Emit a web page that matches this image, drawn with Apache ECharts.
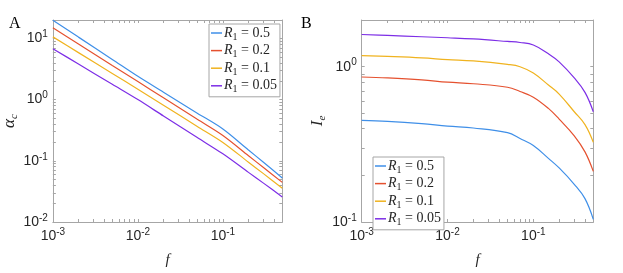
<!DOCTYPE html>
<html><head><meta charset="utf-8">
<script src="https://cdn.jsdelivr.net/npm/echarts@6/dist/echarts.min.js"></script>
<style>html,body{margin:0;padding:0;background:#fff}#c{width:623px;height:273px}</style>
</head><body><div id="c"></div>
<script>
// ---- data ----
const seriesNames = ['R1 = 0.5', 'R1 = 0.2', 'R1 = 0.1', 'R1 = 0.05'];
const fA = [0.001, 0.002, 0.005, 0.01, 0.02, 0.05, 0.1, 0.2, 0.3, 0.5];
const alphaR05  = [19.9, 10.5, 4.54, 2.4, 1.32, 0.60, 0.331, 0.15, 0.0946, 0.0525];
const alphaR02  = [14.9, 8.09, 3.6, 1.97, 1.07, 0.476, 0.259, 0.121, 0.0776, 0.0444];
const alphaR01  = [10.6, 5.86, 2.68, 1.48, 0.81, 0.365, 0.2, 0.095, 0.0617, 0.0357];
const alphaR005 = [6.79, 3.82, 1.78, 1.0, 0.54, 0.24, 0.13, 0.0647, 0.0432, 0.0257];
const fB = [0.001, 0.002, 0.005, 0.01, 0.02, 0.05, 0.07, 0.1, 0.15, 0.2, 0.3, 0.4, 0.5];
const ieR05  = [0.451, 0.445, 0.43, 0.414, 0.403, 0.376, 0.345, 0.311, 0.257, 0.223, 0.175, 0.1415, 0.104];
const ieR02  = [0.859, 0.847, 0.823, 0.796, 0.777, 0.738, 0.693, 0.637, 0.539, 0.46, 0.359, 0.283, 0.212];
const ieR01  = [1.18, 1.165, 1.14, 1.112, 1.09, 1.035, 1.0, 0.91, 0.762, 0.667, 0.513, 0.424, 0.326];
const ieR005 = [1.613, 1.59, 1.56, 1.537, 1.51, 1.455, 1.432, 1.38, 1.211, 1.075, 0.847, 0.684, 0.513];
const xTickLabels = [0.001, 0.01, 0.1];
const yTickLabelsA = [0.01, 0.1, 1, 10];
const yTickLabelsB = [0.1, 1];

// ---- helpers ----
const colors = ['#3f8fe8', '#e5512f', '#f0b31f', '#7d2ee6'];
function minorTicks(lo, hi) {
  const out = [];
  for (let e = Math.floor(Math.log10(lo)); e <= Math.ceil(Math.log10(hi)); e++) {
    for (let m = 1; m <= 9; m++) {
      const v = +(m * Math.pow(10, e)).toPrecision(6);
      if (v >= lo * 0.9999 && v <= hi * 1.0001) out.push(v);
    }
  }
  return out;
}
const labelRich = {
  b: { fontSize: 14, fontFamily: 'Liberation Sans', color: '#262626', lineHeight: 18 },
  s: { fontSize: 10, fontFamily: 'Liberation Sans', color: '#262626', verticalAlign: 'top', lineHeight: 18 }
};
function powFmt(v) {
  const e = Math.round(Math.log10(v));
  return '{b|10}{s|' + e + '}';
}
const axisColor = '#a6a6a6';
function makeX(gridIndex, pos, lo, hi, show, name) {
  return {
    type: 'log', gridIndex, position: pos, min: lo, max: hi,
    axisLine: { show: true, lineStyle: { color: axisColor, width: 1 } },
    axisTick: { show: true, inside: true, length: 3, lineStyle: { color: axisColor }, customValues: minorTicks(lo, hi) },
    axisLabel: { show: show, margin: 5, customValues: xTickLabels, formatter: powFmt, rich: labelRich },
    splitLine: { show: false },
    name: name || '', nameLocation: 'middle', nameGap: 31,
    nameTextStyle: { fontFamily: 'Liberation Serif', fontStyle: 'italic', fontSize: 15, color: '#262626' }
  };
}
function makeY(gridIndex, pos, lo, hi, show, labels, name, gap) {
  return {
    type: 'log', gridIndex, position: pos, min: lo, max: hi,
    axisLine: { show: true, lineStyle: { color: axisColor, width: 1 } },
    axisTick: { show: true, inside: true, length: 3, lineStyle: { color: axisColor }, customValues: minorTicks(lo, hi) },
    axisLabel: { show: show, margin: 5, customValues: labels, formatter: powFmt, rich: labelRich },
    splitLine: { show: false },
    name: name || '', nameLocation: 'middle', nameGap: gap || 30, nameRotate: 90,
    nameTextStyle: {
      rich: {
        m: { fontFamily: 'Liberation Serif', fontStyle: 'italic', fontSize: 17, color: '#262626' },
        sub: { fontFamily: 'Liberation Serif', fontStyle: 'italic', fontSize: 11, color: '#262626', verticalAlign: 'bottom', lineHeight: 20 }
      }
    }
  };
}
function zip(xs, ys) { return xs.map((x, i) => [x, ys[i]]); }
const dataA = [alphaR05, alphaR02, alphaR01, alphaR005];
const dataB = [ieR05, ieR02, ieR01, ieR005];
const series = [];
dataA.forEach((d, i) => series.push({
  name: seriesNames[i], type: 'line', xAxisIndex: 0, yAxisIndex: 0, data: zip(fA, d),
  showSymbol: false, symbol: 'none', smooth: 0.3, lineStyle: { width: 1.2, color: colors[i] }, itemStyle: { color: colors[i] }, animation: false
}));
dataB.forEach((d, i) => series.push({
  name: seriesNames[i], type: 'line', xAxisIndex: 2, yAxisIndex: 2, data: zip(fB, d),
  showSymbol: false, symbol: 'none', smooth: 0.4, lineStyle: { width: 1.2, color: colors[i] }, itemStyle: { color: colors[i] }, animation: false
}));
const legendRich = {
  r: { fontFamily: 'Liberation Serif', fontStyle: 'italic', fontSize: 14, color: '#262626' },
  s: { fontFamily: 'Liberation Serif', fontSize: 10, color: '#262626', verticalAlign: 'bottom', lineHeight: 18 },
  e: { fontFamily: 'Liberation Serif', fontSize: 14, color: '#262626' }
};
function legendFmt(n) {
  const v = n.split('=')[1].trim();
  return '{r|R}{s|1}{e| = ' + v + '}';
}
const legendBase = {
  data: seriesNames, orient: 'vertical', icon: 'rect', itemWidth: 11, itemHeight: 1.5, itemGap: 1.6,
  formatter: legendFmt, textStyle: { rich: legendRich, padding: [0, 0, 0, -3] },
  backgroundColor: '#fff', borderColor: '#a6a6a6', borderWidth: 1, padding: [2, 3, 2, 2], selectedMode: false
};
const option = {
  animation: false,
  title: [
    { text: 'A', left: 4, top: 11, textStyle: { fontFamily: 'Liberation Serif', fontWeight: 'normal', fontSize: 16, color: '#000' } },
    { text: 'B', left: 296, top: 11, textStyle: { fontFamily: 'Liberation Serif', fontWeight: 'normal', fontSize: 16, color: '#000' } }
  ],
  grid: [
    { left: 50.7, top: 20, width: 231.6, height: 209.3 },
    { left: 361.7, top: 20, width: 231.6, height: 209.3 }
  ],
  xAxis: [
    makeX(0, 'bottom', 0.001, 0.5, true, 'f'),
    makeX(0, 'top', 0.001, 0.5, false),
    makeX(1, 'bottom', 0.001, 0.5, true, 'f'),
    makeX(1, 'top', 0.001, 0.5, false)
  ],
  yAxis: [
    makeY(0, 'left', 0.01, 20, true, yTickLabelsA, '{m|α}{sub|c}', 29),
    makeY(0, 'right', 0.01, 20, false, yTickLabelsA),
    makeY(1, 'left', 0.1, 2, true, yTickLabelsB, '{m|I}{sub|e}', 34),
    makeY(1, 'right', 0.1, 2, false, yTickLabelsB)
  ],
  legend: [
    Object.assign({}, legendBase, { left: 209, top: 24 }),
    Object.assign({}, legendBase, { left: 373, top: 157 })
  ],
  series
};
const chart = echarts.init(document.getElementById('c'), null, { renderer: 'canvas' });
chart.setOption(option);
</script></body></html>
